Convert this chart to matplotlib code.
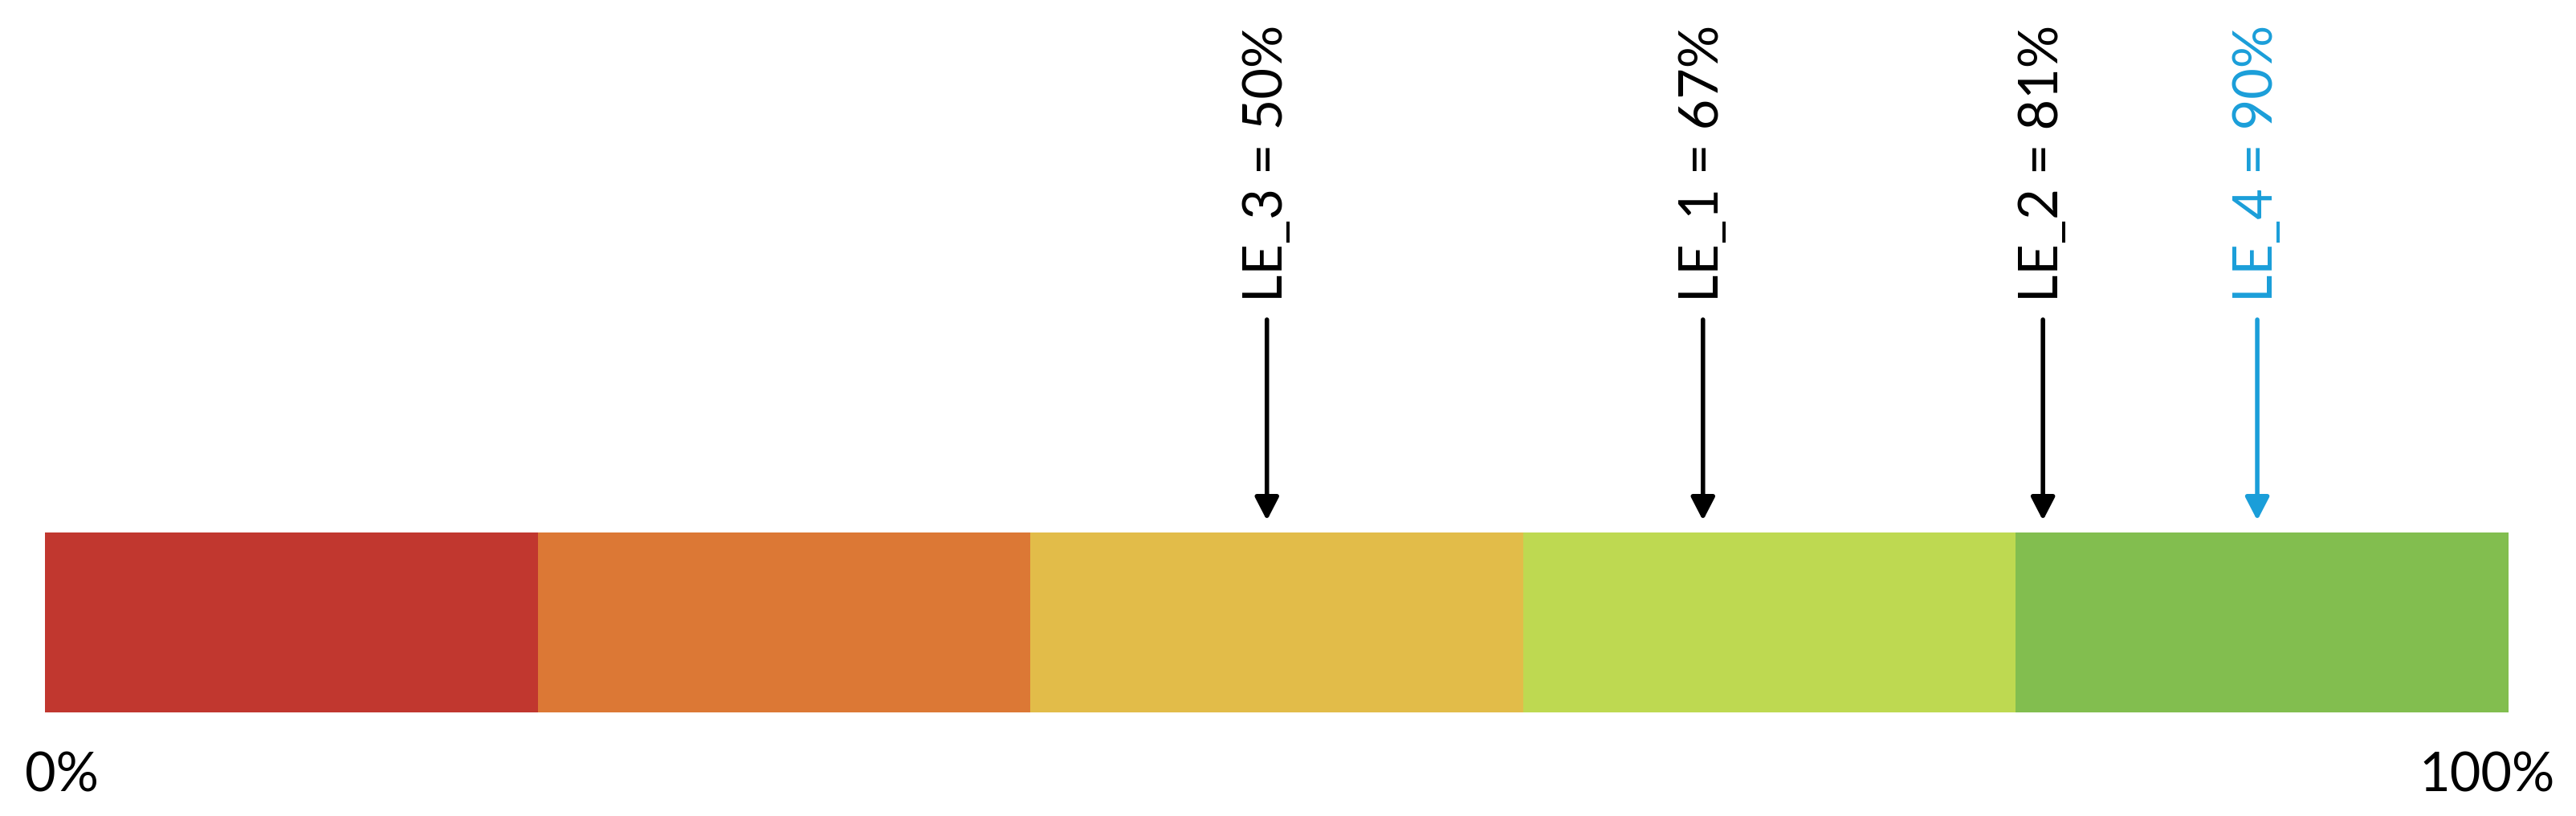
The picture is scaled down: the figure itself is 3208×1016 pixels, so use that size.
import matplotlib
matplotlib.use("Agg")
import matplotlib.pyplot as plt

# scale bands (percent) and their colours
band_edges = [0, 20, 40, 60, 80, 100]
band_colors = ["#C1372F", "#DC7835", "#E2BC49", "#BED951", "#82BE4F"]

# markers along the scale: label value and where the arrow sits
marker_names = ["LE_3", "LE_1", "LE_2", "LE_4"]
marker_values = [50, 67, 81, 90]
marker_pos = [49.6, 67.3, 81.1, 89.8]
marker_colors = ["black", "black", "black", "#1A9ED9"]

end_labels = ["0%", "100%"]

plt.rcParams["font.family"] = ["Lato", "DejaVu Sans"]

W, H, DPI = 3208, 1016, 100
fig = plt.figure(figsize=(W / DPI, H / DPI), dpi=DPI)
ax = fig.add_axes([0, 0, 1, 1])

# horizontal: percent, bar from pixel 56 to 3124
x0, x1 = 56, 3124
px_per_pct = (x1 - x0) / 100.0
ax.set_xlim(-x0 / px_per_pct, 100 + (W - x1) / px_per_pct)
# vertical: pixel rows, top at 0
ax.set_ylim(H, 0)
ax.axis("off")

bar_top, bar_bot = 663, 887
for i, c in enumerate(band_colors):
    ax.barh((bar_top + bar_bot) / 2, band_edges[i + 1] - band_edges[i],
            left=band_edges[i], height=bar_bot - bar_top, color=c, linewidth=0)

for name, val, pos, col in zip(marker_names, marker_values, marker_pos, marker_colors):
    ax.annotate("", xy=(pos, 648), xytext=(pos, 398),
                arrowprops=dict(arrowstyle="-|>,head_length=0.58,head_width=0.3",
                                lw=4, color=col, mutation_scale=30,
                                shrinkA=0, shrinkB=0))
    ax.text(pos, 376, f"{name} = {val}%", rotation=90, ha="center", va="bottom",
            fontsize=48, color=col)

ax.text(band_edges[0] - 25 / px_per_pct, 986, end_labels[0], ha="left",
        va="baseline", fontsize=48, color="black")
ax.text(band_edges[-1] + 58 / px_per_pct, 986, end_labels[1], ha="right",
        va="baseline", fontsize=48, color="black")

fig.savefig("out.png", dpi=DPI, facecolor="white")
